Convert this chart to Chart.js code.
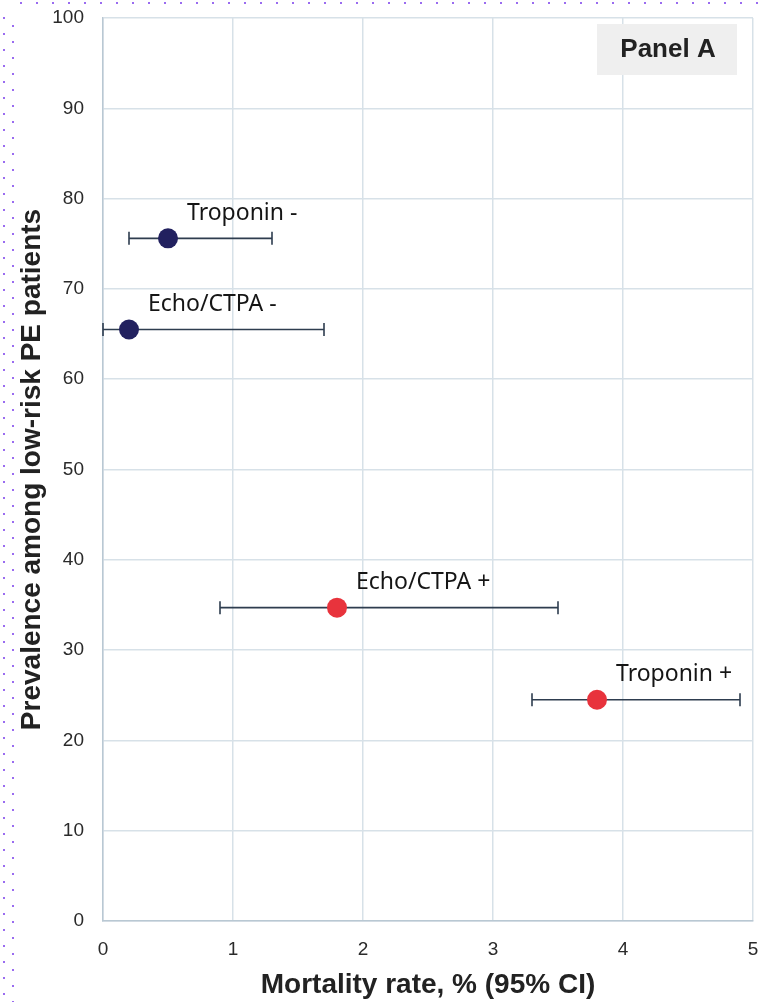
<!DOCTYPE html>
<html>
<head>
<meta charset="utf-8">
<script src="https://cdn.jsdelivr.net/npm/chart.js@4/dist/chart.umd.min.js"></script>
<style>
  html, body { margin: 0; padding: 0; background: #fff; }
  #wrap { width: 759px; height: 1002px; }
</style>
</head>
<body>
<div id="wrap"><canvas id="panelA" width="759" height="1002"></canvas></div>
<script>
"use strict";

// data
var markers = ["Troponin -", "Echo/CTPA -", "Echo/CTPA +", "Troponin +"];
var mortality = [0.5, 0.2, 1.8, 3.8];
var ciLow = [0.2, 0.0, 0.9, 3.3];
var ciHigh = [1.3, 1.7, 3.5, 4.9];
var prevalence = [75.6, 65.5, 34.7, 24.5];
var markerSign = ["-", "-", "+", "+"];

var xTicks = [0, 1, 2, 3, 4, 5];
var yTicks = [0, 10, 20, 30, 40, 50, 60, 70, 80, 90, 100];

var signColor = { "-": "#22215f", "+": "#e8333c" };
var barColor = "#2e3d4f";
var gridColor = "#d7e1e8";

var points = mortality.map(function (x, i) {
    return { x: x, y: prevalence[i] };
});

var errorBars = {
    id: "errorBars",
    beforeDatasetsDraw: function (chart) {
        var c = chart.ctx, xs = chart.scales.x, ys = chart.scales.y;
        c.save();
        c.strokeStyle = barColor;
        c.lineWidth = 1.6;
        for (var i = 0; i < points.length; i++) {
            var y = ys.getPixelForValue(prevalence[i]);
            var x0 = xs.getPixelForValue(ciLow[i]);
            var x1 = xs.getPixelForValue(ciHigh[i]);
            c.beginPath();
            c.moveTo(x0, y); c.lineTo(x1, y);
            c.moveTo(x0, y - 6.5); c.lineTo(x0, y + 6.5);
            c.moveTo(x1, y - 6.5); c.lineTo(x1, y + 6.5);
            c.stroke();
        }
        c.restore();
    },
    afterDatasetsDraw: function (chart) {
        var c = chart.ctx, xs = chart.scales.x, ys = chart.scales.y;
        c.save();
        c.fillStyle = "#151515";
        c.font = "23px 'Noto Sans'";
        c.textBaseline = "middle";
        c.textAlign = "left";
        for (var i = 0; i < points.length; i++) {
            var x = xs.getPixelForValue(mortality[i]);
            var y = ys.getPixelForValue(prevalence[i]);
            c.fillText(markers[i], x + 19, y - 25);
        }
        // panel tag
        c.fillStyle = "#efefef";
        c.fillRect(597, 24, 140, 51);
        c.fillStyle = "#222";
        c.font = "bold 26px 'Liberation Sans'";
        c.textAlign = "center";
        c.fillText("Panel A", 668, 50);
        c.restore();
    }
};

var dottedFrame = {
    id: "dottedFrame",
    beforeDraw: function (chart) {
        var c = chart.ctx;
        c.save();
        c.fillStyle = "#9a6cf0";
        for (var x = 20; x < 759; x += 16) c.fillRect(x, 2, 2, 2);
        for (var y = 17; y < 1002; y += 16) {
            c.fillRect(3, y, 2, 2);
            c.fillRect(12, y + 8, 2, 2);
        }
        c.restore();
    }
};

var ctx = document.getElementById("panelA");
var myChart = new Chart(ctx, {
    type: "scatter",
    data: {
        datasets: [{
            data: points,
            backgroundColor: markerSign.map(function (s) { return signColor[s]; }),
            borderWidth: 0,
            pointRadius: 10,
            pointHoverRadius: 10
        }]
    },
    options: {
        responsive: false,
        animation: false,
        layout: { autoPadding: false, padding: { top: 18, right: 6, left: 0, bottom: 0 } },
        plugins: {
            legend: { display: false },
            tooltip: { enabled: false }
        },
        scales: {
            x: {
                type: "linear",
                min: 0,
                max: 5,
                afterFit: function (s) {
                    s.height = 81;
                    s.paddingLeft = 0;
                    s.paddingRight = 0;
                },
                afterBuildTicks: function (s) {
                    s.ticks = xTicks.map(function (v) { return { value: v }; });
                },
                grid: { color: gridColor, lineWidth: 1.5, drawTicks: false },
                border: { color: "#b9c8d3", width: 1.5 },
                ticks: {
                    padding: 17,
                    color: "#2a2a2a",
                    font: { family: "'Liberation Sans'", size: 19 }
                },
                title: {
                    display: true,
                    text: "Mortality rate, % (95% CI)",
                    color: "#222",
                    padding: { top: 0, bottom: 0 },
                    font: { family: "'Liberation Sans'", size: 28, weight: "bold" }
                }
            },
            y: {
                type: "linear",
                min: 0,
                max: 100,
                afterFit: function (s) {
                    s.width = 103;
                    s.paddingTop = 0;
                    s.paddingBottom = 0;
                },
                afterBuildTicks: function (s) {
                    s.ticks = yTicks.map(function (v) { return { value: v }; });
                },
                grid: { color: gridColor, lineWidth: 1.5, drawTicks: false },
                border: { color: "#b9c8d3", width: 1.5 },
                ticks: {
                    padding: 19,
                    color: "#2a2a2a",
                    font: { family: "'Liberation Sans'", size: 19 }
                },
                title: {
                    display: true,
                    text: "Prevalence among low-risk PE patients",
                    color: "#222",
                    padding: { top: 15, bottom: 0 },
                    font: { family: "'Liberation Sans'", size: 28, weight: "bold" }
                }
            }
        }
    },
    plugins: [dottedFrame, errorBars]
});
</script>
</body>
</html>
